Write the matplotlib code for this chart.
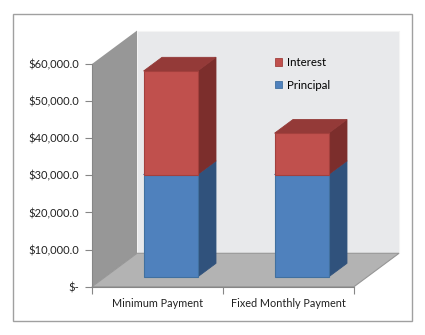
import matplotlib
matplotlib.use("Agg")
import matplotlib.pyplot as plt
from matplotlib.patches import Polygon, Rectangle, Patch
from matplotlib.ticker import FuncFormatter

# =========================
# DATA
# =========================
categories = ["Minimum Payment", "Fixed Monthly Payment"]
principal = [27600, 27600]
interest = [27900, 11150]
series_names = ["Interest", "Principal"]
y_ticks = [0, 10000, 20000, 30000, 40000, 50000, 60000]

# =========================
# 3D LOOK (oblique projection)
# =========================
DX = 0.3435      # depth shift along x, in category units
DY = 9000        # depth shift along y, in value units
F0, F1 = 0.29, 0.70   # bar depth span (fraction of full depth)
BAR_W = 0.412

blue = {"front": "#4f81bd", "side": "#30527c", "top": "#3d6597", "edge": "#41709f"}
red = {"front": "#c0504d", "side": "#7c2e2c", "top": "#943a38", "edge": "#a3403d"}

plt.rcParams["font.family"] = ["Lato", "DejaVu Sans"]

fig = plt.figure(figsize=(4.25, 3.35), dpi=100)
ax = fig.add_axes([92 / 425, 48.3 / 335, 262 / 425, 222.7 / 335])
ax.patch.set_visible(False)
ax.set_xlim(0, 2)
ax.set_ylim(0, 60000)

# outer chart border
fig.patches.append(Rectangle((13 / 425, 14 / 335), 399 / 425, 307 / 335,
                             transform=fig.transFigure, fill=False,
                             edgecolor="#a0a0a0", linewidth=1.0))


def poly(pts, fc, ec="none", lw=0.0, z=1):
    ax.add_patch(Polygon(pts, closed=True, facecolor=fc, edgecolor=ec,
                         linewidth=lw, clip_on=False, zorder=z))


ymax = y_ticks[-1]
ncat = len(categories)

# back wall, side wall, floor
poly([(DX, DY), (ncat + DX, DY), (ncat + DX, ymax + DY), (DX, ymax + DY)],
     "#e8e9eb", "#f4f4f4", 0.8, z=0.5)
poly([(0, 0), (DX, DY), (DX, ymax + DY), (0, ymax)], "#979797", z=0.6)
poly([(0, 0), (ncat, 0), (ncat + DX, DY), (DX, DY)], "#b3b3b3",
     "#969696", 0.8, z=0.7)


def box(x0, x1, y0, y1, c):
    a = (F0 * DX, F0 * DY)
    b = (F1 * DX, F1 * DY)
    front = [(x0 + a[0], y0 + a[1]), (x1 + a[0], y0 + a[1]),
             (x1 + a[0], y1 + a[1]), (x0 + a[0], y1 + a[1])]
    side = [(x1 + a[0], y0 + a[1]), (x1 + b[0], y0 + b[1]),
            (x1 + b[0], y1 + b[1]), (x1 + a[0], y1 + a[1])]
    top = [(x0 + a[0], y1 + a[1]), (x1 + a[0], y1 + a[1]),
           (x1 + b[0], y1 + b[1]), (x0 + b[0], y1 + b[1])]
    poly(side, c["side"], c["side"], 0.6, z=2)
    poly(top, c["top"], c["top"], 0.6, z=2)
    poly(front, c["front"], c["edge"], 0.8, z=2)


for i in range(ncat):
    left = i + 0.5 - BAR_W / 2
    right = i + 0.5 + BAR_W / 2
    box(left, right, 0, principal[i], blue)
    box(left, right, principal[i], principal[i] + interest[i], red)

# axes
for s in ["top", "right"]:
    ax.spines[s].set_visible(False)
for s in ["left", "bottom"]:
    ax.spines[s].set_color("#868686")
    ax.spines[s].set_linewidth(0.8)
    ax.spines[s].set_zorder(3)

ax.set_yticks(y_ticks)
ax.yaxis.set_major_formatter(FuncFormatter(
    lambda v, p: "$-" if v == 0 else f"${v:,.1f}"))
ax.tick_params(axis="y", length=5, width=0.8, color="#868686",
               labelsize=8, pad=4, labelcolor="#222222")

ax.set_xticks(range(ncat + 1))
ax.set_xticklabels([])
ax.set_xticks([i + 0.5 for i in range(ncat)], minor=True)
ax.set_xticklabels(categories, minor=True)
ax.tick_params(axis="x", which="major", length=5, width=0.8, color="#868686")
ax.tick_params(axis="x", which="minor", length=0, pad=8, labelsize=7.8,
               labelcolor="#222222")

handles = [Patch(facecolor=red["front"], edgecolor=red["edge"], lw=0.6),
           Patch(facecolor=blue["front"], edgecolor=blue["edge"], lw=0.6)]
fig.legend(handles, series_names, loc="upper left",
           bbox_to_anchor=(275 / 425, 1 - 57 / 335), frameon=False,
           fontsize=8.3, handlelength=0.65, handleheight=0.65,
           handletextpad=0.35, labelspacing=1.0, borderaxespad=0, borderpad=0)

fig.savefig("out.png", dpi=100)
